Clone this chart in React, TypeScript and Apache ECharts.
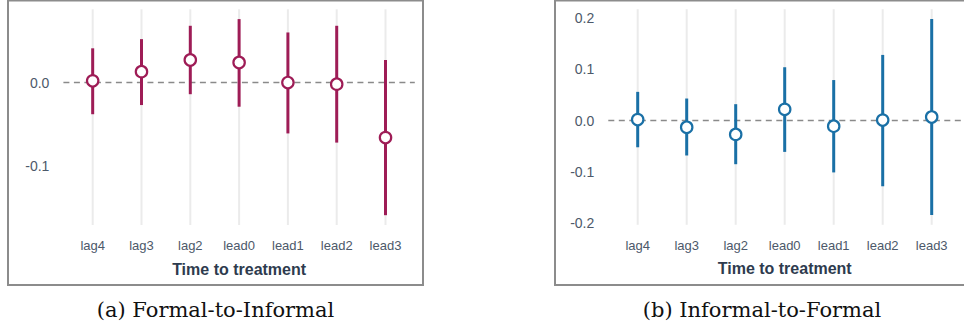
import React, { useEffect, useRef } from "react";
import * as echarts from "echarts";

const categories = ["lag4", "lag3", "lag2", "lead0", "lead1", "lead2", "lead3"];

const formalEst = [0.002, 0.013, 0.027, 0.024, 0.0, -0.002, -0.066];
const formalLow = [-0.038, -0.027, -0.014, -0.029, -0.061, -0.072, -0.159];
const formalHigh = [0.041, 0.052, 0.068, 0.076, 0.06, 0.068, 0.027];

const informalEst = [0.002, -0.013, -0.027, 0.022, -0.011, 0.001, 0.007];
const informalLow = [-0.052, -0.068, -0.085, -0.061, -0.101, -0.128, -0.184];
const informalHigh = [0.056, 0.043, 0.032, 0.104, 0.079, 0.128, 0.198];

const formalTicks = [-0.1, 0.0];
const informalTicks = [-0.2, -0.1, 0.0, 0.1, 0.2];

const captions = ["(a) Formal-to-Informal", "(b) Informal-to-Formal"];
const axisTitle = "Time to treatment";

const FONT = "Liberation Sans";
const MAROON = "#9e1c56";
const BLUE = "#1a70a6";

function expandRange(lo: number[], hi: number[]) {
  const a = Math.min(...lo);
  const b = Math.max(...hi);
  const pad = (b - a) * 0.05;
  return [a - pad, b + pad];
}

export default function App() {
  const ref = useRef<HTMLDivElement>(null);
  useEffect(() => {
    if (!ref.current) return;
    const chart = echarts.init(ref.current, null, { renderer: "svg" });

    const panels = [
      { est: formalEst, low: formalLow, high: formalHigh, ticks: formalTicks, color: MAROON, left: 63.4, width: 351.4, top: 9.3, height: 215.7 },
      { est: informalEst, low: informalLow, high: informalHigh, ticks: informalTicks, color: BLUE, left: 608.3, width: 352.8, top: 9.2, height: 215.6 },
    ];

    const grid: any[] = [];
    const xAxis: any[] = [];
    const yAxis: any[] = [];
    const series: any[] = [];

    panels.forEach((p, k) => {
      const [ymin, ymax] = expandRange(p.low, p.high);
      grid.push({ left: p.left, width: p.width, top: p.top, height: p.height, containLabel: false });
      xAxis.push({
        type: "value",
        gridIndex: k,
        min: -0.6,
        max: categories.length - 0.4,
        axisLine: { show: false },
        axisTick: { show: false },
        splitLine: { show: false },
        axisLabel: {
          customValues: categories.map((_, i) => i),
          formatter: (v: number) => categories[Math.round(v)] ?? "",
          color: "#4d596a",
          fontSize: 13,
          fontFamily: FONT,
          margin: 14,
        },
        name: axisTitle,
        nameLocation: "middle",
        nameGap: 36,
        nameTextStyle: { fontFamily: FONT, fontSize: 16, fontWeight: "bold", color: "#2e3b4e" },
      });
      yAxis.push({
        type: "value",
        gridIndex: k,
        min: ymin,
        max: ymax,
        axisLine: { show: false },
        axisTick: { show: false },
        splitLine: { show: false },
        axisLabel: {
          customValues: p.ticks,
          formatter: (v: number) => v.toFixed(1),
          color: "#4d596a",
          fontSize: 14,
          fontFamily: FONT,
          margin: 14,
        },
      });
      // vertical gridlines at categories
      series.push({
        type: "custom",
        xAxisIndex: k,
        yAxisIndex: k,
        z: 1,
        silent: true,
        data: categories.map((_, i) => [i, 0]),
        encode: { x: 0, y: 1 },
        renderItem: (params: any, api: any) => {
          const pt = api.coord([api.value(0), 0]);
          const cs = params.coordSys;
          return {
            type: "line",
            shape: { x1: pt[0], y1: cs.y, x2: pt[0], y2: cs.y + cs.height },
            style: { stroke: "#ebebeb", lineWidth: 2 },
          };
        },
      });
      // zero reference line
      series.push({
        type: "custom",
        xAxisIndex: k,
        yAxisIndex: k,
        z: 2,
        silent: true,
        data: [[0, 0]],
        encode: { x: 0, y: 1 },
        renderItem: (params: any, api: any) => {
          const pt = api.coord([0, api.value(1)]);
          const cs = params.coordSys;
          return {
            type: "line",
            shape: { x1: cs.x, y1: pt[1], x2: cs.x + cs.width, y2: pt[1] },
            style: { stroke: "#8a8a8a", lineWidth: 1.5, lineDash: [6, 4.5] },
          };
        },
      });
      // error bars and points
      series.push({
        type: "custom",
        xAxisIndex: k,
        yAxisIndex: k,
        z: 5,
        data: categories.map((_, i) => [i, p.est[i], p.low[i], p.high[i]]),
        encode: { x: 0, y: [1, 2, 3] },
        renderItem: (params: any, api: any) => {
          const x = api.value(0);
          const c = api.coord([x, api.value(1)]);
          const lo = api.coord([x, api.value(2)]);
          const hi = api.coord([x, api.value(3)]);
          return {
            type: "group",
            children: [
              { type: "line", shape: { x1: lo[0], y1: lo[1], x2: hi[0], y2: hi[1] }, style: { stroke: p.color, lineWidth: 3 } },
              { type: "circle", shape: { cx: c[0], cy: c[1], r: 5.7 }, style: { fill: "#ffffff", stroke: p.color, lineWidth: 2.2 } },
            ],
          };
        },
      });
    });

    chart.setOption({
      animation: false,
      backgroundColor: "#ffffff",
      grid,
      xAxis,
      yAxis,
      series,
      graphic: [
        { type: "rect", shape: { x: 8, y: 0.5, width: 415, height: 284.5 }, style: { fill: "none", stroke: "#8c8c8c", lineWidth: 2 }, z: 0 },
        { type: "rect", shape: { x: 555, y: 0.5, width: 420, height: 284.5 }, style: { fill: "none", stroke: "#8c8c8c", lineWidth: 2 }, z: 0 },
        { type: "text", x: 215.5, y: 310, style: { text: captions[0], fill: "#111111", fontFamily: "DejaVu Serif", fontSize: 21, align: "center", verticalAlign: "middle" } },
        { type: "text", x: 762, y: 310, style: { text: captions[1], fill: "#111111", fontFamily: "DejaVu Serif", fontSize: 21, align: "center", verticalAlign: "middle" } },
      ],
    });
    return () => chart.dispose();
  }, []);
  return <div ref={ref} style={{ position: "fixed", left: 0, top: 0, width: 964, height: 328, background: "#fff" }} />;
}
